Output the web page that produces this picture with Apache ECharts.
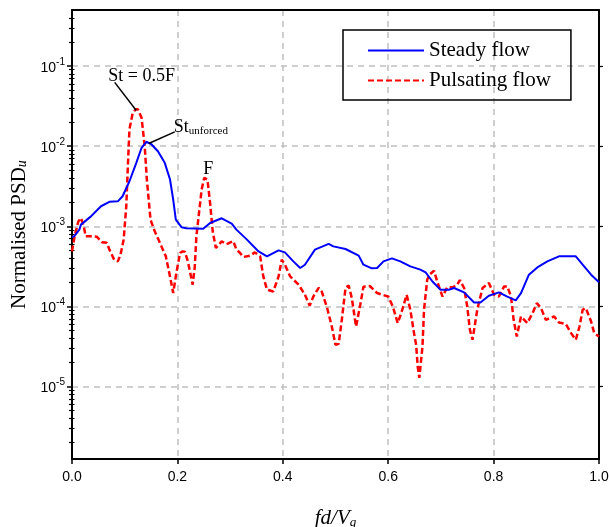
<!DOCTYPE html>
<html><head><meta charset="utf-8">
<script src="https://cdn.jsdelivr.net/npm/echarts@6/dist/echarts.min.js"></script>
<style>html,body{margin:0;padding:0;background:#fff}#c{width:609px;height:527px}</style>
</head><body><div id="c"></div>
<script>
// Steady flow
const steadyX = [0.000,0.004,0.014,0.017,0.036,0.055,0.071,0.087,0.096,0.109,0.122,0.132,0.141,0.151,0.163,0.176,0.186,0.192,0.197,0.208,0.217,0.249,0.262,0.284,0.303,0.312,0.331,0.354,0.370,0.392,0.404,0.420,0.433,0.442,0.461,0.487,0.496,0.519,0.544,0.553,0.569,0.579,0.591,0.607,0.623,0.642,0.661,0.671,0.684,0.699,0.715,0.725,0.744,0.763,0.775,0.791,0.810,0.826,0.842,0.852,0.867,0.883,0.902,0.924,0.956,0.969,0.985,1.000];
const steadyPSD = [7.36e-4,7.50e-4,9.10e-4,1.05e-3,1.33e-3,1.78e-3,2.02e-3,2.05e-3,2.37e-3,3.65e-3,6.19e-3,9.55e-3,1.135e-2,1.05e-2,8.65e-3,6.19e-3,3.84e-3,2.16e-3,1.21e-3,9.70e-4,9.44e-4,9.35e-4,1.10e-3,1.26e-3,1.08e-3,9.10e-4,6.92e-4,4.86e-4,4.22e-4,5.01e-4,4.73e-4,3.65e-4,3.02e-4,3.32e-4,5.12e-4,6.03e-4,5.62e-4,5.21e-4,4.31e-4,3.32e-4,2.99e-4,3.02e-4,3.65e-4,3.98e-4,3.65e-4,3.16e-4,2.88e-4,2.66e-4,2.05e-4,1.62e-4,1.62e-4,1.70e-4,1.50e-4,1.12e-4,1.12e-4,1.36e-4,1.50e-4,1.33e-4,1.19e-4,1.47e-4,2.49e-4,3.07e-4,3.65e-4,4.22e-4,4.22e-4,3.32e-4,2.49e-4,2.00e-4];
// Pulsating flow
const pulsX = [0.000,0.005,0.012,0.017,0.022,0.026,0.039,0.047,0.057,0.066,0.071,0.080,0.087,0.092,0.098,0.103,0.106,0.109,0.115,0.121,0.125,0.132,0.138,0.142,0.149,0.157,0.167,0.178,0.186,0.192,0.198,0.205,0.210,0.214,0.220,0.229,0.233,0.236,0.241,0.246,0.251,0.257,0.262,0.267,0.273,0.284,0.293,0.306,0.312,0.319,0.325,0.338,0.347,0.357,0.363,0.370,0.382,0.392,0.398,0.404,0.414,0.430,0.442,0.451,0.458,0.468,0.474,0.484,0.493,0.500,0.506,0.512,0.519,0.525,0.531,0.539,0.547,0.553,0.565,0.579,0.600,0.609,0.618,0.625,0.635,0.642,0.649,0.653,0.656,0.659,0.665,0.668,0.674,0.678,0.687,0.693,0.703,0.712,0.722,0.730,0.736,0.744,0.750,0.755,0.760,0.769,0.779,0.791,0.801,0.810,0.820,0.826,0.833,0.838,0.844,0.852,0.864,0.874,0.882,0.890,0.899,0.915,0.924,0.937,0.947,0.956,0.963,0.969,0.975,0.985,0.991,1.000];
const pulsPSD = [4.87e-4,7.50e-4,1.15e-3,1.27e-3,1.02e-3,7.50e-4,7.50e-4,7.43e-4,6.31e-4,6.25e-4,5.12e-4,3.84e-4,3.65e-4,4.43e-4,6.82e-4,1.78e-3,5.62e-3,1.62e-2,2.56e-2,2.88e-2,2.88e-2,2.26e-2,1.00e-2,3.84e-3,1.21e-3,8.66e-4,6.20e-4,4.22e-4,2.37e-4,1.47e-4,2.62e-4,4.65e-4,4.87e-4,4.83e-4,3.62e-4,1.87e-4,3.16e-4,7.50e-4,1.47e-3,2.88e-3,4.03e-3,3.84e-3,1.96e-3,8.66e-4,5.37e-4,6.49e-4,5.99e-4,6.53e-4,5.12e-4,4.65e-4,4.14e-4,4.31e-4,4.73e-4,4.22e-4,2.37e-4,1.62e-4,1.54e-4,2.37e-4,3.84e-4,3.32e-4,2.37e-4,1.87e-4,1.40e-4,1.02e-4,1.33e-4,1.71e-4,1.53e-4,9.64e-5,5.62e-5,3.32e-5,3.42e-5,6.82e-5,1.71e-4,1.82e-4,1.27e-4,5.62e-5,1.05e-4,1.76e-4,1.80e-4,1.47e-4,1.33e-4,9.91e-5,6.20e-5,8.34e-5,1.40e-4,9.10e-5,4.65e-5,3.32e-5,1.78e-5,1.29e-5,3.13e-5,9.10e-5,2.16e-4,2.49e-4,2.79e-4,2.05e-4,1.33e-4,1.74e-4,1.74e-4,1.82e-4,2.13e-4,1.70e-4,1.00e-4,5.12e-5,3.84e-5,9.10e-5,1.70e-4,1.96e-4,1.40e-4,1.33e-4,1.78e-4,1.78e-4,1.33e-4,6.82e-5,4.22e-5,7.50e-5,6.20e-5,8.27e-5,1.10e-4,9.55e-5,6.82e-5,7.50e-5,6.31e-5,6.03e-5,4.65e-5,3.84e-5,5.62e-5,9.10e-5,9.55e-5,6.49e-5,4.65e-5,4.22e-5];

const seriesNames = ['Steady flow', 'Pulsating flow'];
const xTickValues = [0, 0.2, 0.4, 0.6, 0.8, 1.0];
const yDecadeExps = [-5, -4, -3, -2, -1];
const yRange = [1.25e-6, 0.5];

// annotations: text anchor (x, PSD) and leader lines
const annoTexts = ['St = 0.5F', 'St_unforced', 'F'];
const annoTextX = [0.132, 0.2445, 0.2584];
const annoTextPSD = [7.87e-2, 1.82e-2, 5.5e-3];
const leaderX1 = [0.081, 0.1456];
const leaderPSD1 = [6.25e-2, 1.08e-2];
const leaderX2 = [0.122, 0.195];
const leaderPSD2 = [2.79e-2, 1.51e-2];

const L = Math.log10;
const pair = (xs, ys) => xs.map((x, i) => [x, L(ys[i])]);
const minorVals = [];
for (let e = -7; e <= 0; e++) for (let k = 2; k <= 9; k++) {
  const v = k * Math.pow(10, e);
  if (v > yRange[0] && v < yRange[1]) minorVals.push(L(v));
}
const yMin = L(yRange[0]), yMax = L(yRange[1]);
const serif = 'Liberation Serif', sans = 'Liberation Sans';

const annoLabel = (t) => t === 'St_unforced' ? '{a|St}{b|unforced}' : '{a|' + t + '}';

const chart = echarts.init(document.getElementById('c'));
chart.setOption({
  animation: false,
  backgroundColor: '#fff',
  grid: { left: 72, right: 10, top: 10, bottom: 68, containLabel: false, outerBoundsMode: 'none' },
  legend: {
    orient: 'vertical', left: 343, top: 30,
    borderColor: '#000', borderWidth: 1.5, borderRadius: 0,
    padding: [10, 20, 9, 24],
    itemWidth: 56, itemHeight: 14, itemGap: 9,
    itemStyle: { opacity: 0 },
    textStyle: { fontFamily: serif, fontSize: 21, lineHeight: 21, color: '#000' },
    data: seriesNames
  },
  xAxis: [{
    type: 'value', min: 0, max: 1, interval: 0.2, position: 'bottom',
    axisLine: { show: true, onZero: false, lineStyle: { color: '#000', width: 2 } },
    axisTick: { show: true, inside: false, length: 5, lineStyle: { color: '#000', width: 1.5 } },
    axisLabel: { color: '#000', fontFamily: sans, fontSize: 14, margin: 11, formatter: v => v.toFixed(1) },
    splitLine: { show: true, lineStyle: { color: '#c0c0c0', width: 1.5, type: [6, 5] } },
    name: '{a|fd/V}{b|g}', nameLocation: 'middle', nameGap: 46,
    nameTextStyle: { rich: {
      a: { fontFamily: serif, fontStyle: 'italic', fontSize: 21, lineHeight: 24, verticalAlign: 'bottom', color: '#000' },
      b: { fontFamily: serif, fontStyle: 'italic', fontSize: 13, lineHeight: 14, verticalAlign: 'bottom', color: '#000' }
    } }
  }, {
    type: 'value', min: 0, max: 1, position: 'top',
    axisLine: { show: true, onZero: false, lineStyle: { color: '#000', width: 2 } },
    axisTick: { show: false }, axisLabel: { show: false }, splitLine: { show: false }
  }],
  yAxis: [{
    type: 'value', min: yMin, max: yMax, position: 'left', splitNumber: 5,
    axisLine: { show: true, onZero: false, lineStyle: { color: '#000', width: 2 } },
    axisTick: { show: true, inside: false, length: 5, customValues: yDecadeExps, lineStyle: { color: '#000', width: 1.5 } },
    axisLabel: {
      customValues: yDecadeExps, margin: 7,
      formatter: v => '{b|10}{s|' + Math.round(v) + '}',
      rich: {
        b: { fontFamily: sans, fontSize: 14, lineHeight: 18, verticalAlign: 'bottom', color: '#000' },
        s: { fontFamily: sans, fontSize: 10, lineHeight: 10, verticalAlign: 'top', color: '#000' }
      }
    },
    splitLine: { show: true, lineStyle: { color: '#c0c0c0', width: 1.5, type: [6, 5] } },
    name: '{a|Normalised PSD}{b|u}', nameLocation: 'middle', nameGap: 41,
    nameTextStyle: { rich: {
      a: { fontFamily: serif, fontSize: 21, lineHeight: 24, verticalAlign: 'bottom', color: '#000' },
      b: { fontFamily: serif, fontStyle: 'italic', fontSize: 14, lineHeight: 14, verticalAlign: 'bottom', color: '#000' }
    } }
  }, {
    type: 'value', min: yMin, max: yMax, position: 'left',
    axisLine: { show: false },
    axisTick: { show: true, inside: false, length: 3, customValues: minorVals, lineStyle: { color: '#000', width: 1.2 } },
    axisLabel: { show: false }, splitLine: { show: false }
  }, {
    type: 'value', min: yMin, max: yMax, position: 'right',
    axisLine: { show: true, onZero: false, lineStyle: { color: '#000', width: 2 } },
    axisTick: { show: true, inside: false, length: 4, customValues: yDecadeExps, lineStyle: { color: '#000', width: 1.2 } },
    axisLabel: { show: false }, splitLine: { show: false }
  }, {
    type: 'value', min: yMin, max: yMax, position: 'right',
    axisLine: { show: false },
    axisTick: { show: true, inside: false, length: 2.5, customValues: minorVals, lineStyle: { color: '#000', width: 1 } },
    axisLabel: { show: false }, splitLine: { show: false }
  }],
  series: [{
    name: seriesNames[0], type: 'line', xAxisIndex: 0, yAxisIndex: 0,
    data: pair(steadyX, steadyPSD), symbol: 'none', showSymbol: false, z: 3,
    lineStyle: { color: '#0000ff', width: 2 }, itemStyle: { color: '#0000ff' },
    markLine: {
      silent: true, symbol: ['none', 'none'], animation: false,
      lineStyle: { color: '#000', width: 1.5, type: 'solid' }, label: { show: false },
      data: leaderX1.map((x, i) => [{ coord: [x, L(leaderPSD1[i])] }, { coord: [leaderX2[i], L(leaderPSD2[i])] }])
    }
  }, {
    name: seriesNames[1], type: 'line', xAxisIndex: 0, yAxisIndex: 0,
    data: pair(pulsX, pulsPSD), symbol: 'none', showSymbol: false, z: 2,
    lineStyle: { color: '#ff0000', width: 2.5, type: [6, 3] }, itemStyle: { color: '#ff0000' },
    markPoint: {
      silent: true, symbol: 'circle', symbolSize: 0, animation: false,
      itemStyle: { color: 'transparent' },
      label: {
        show: true, position: 'inside',
        rich: {
          a: { fontFamily: serif, fontSize: 18, lineHeight: 22, verticalAlign: 'bottom', color: '#000' },
          b: { fontFamily: serif, fontSize: 11, lineHeight: 12, verticalAlign: 'bottom', color: '#000' }
        }
      },
      data: annoTexts.map((t, i) => ({ coord: [annoTextX[i], L(annoTextPSD[i])], label: { formatter: annoLabel(t) } }))
    }
  }]
});
</script></body></html>
